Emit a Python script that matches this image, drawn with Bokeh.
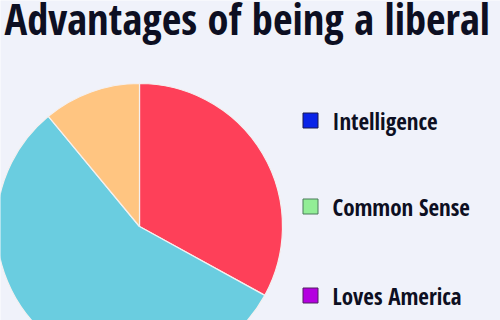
import math
from bokeh.plotting import figure
from bokeh.models import ColumnDataSource, Range1d
from bokeh.core.properties import value
from bokeh.embed import file_html
from bokeh.resources import INLINE

title_text = "Advantages of being a liberal"
slice_names = ["Red", "Blue", "Orange"]
slice_values = [0.33, 0.56, 0.11]
slice_colors = ["#FE4059", "#6ACDE0", "#FFC581"]

legend_labels = ["Intelligence", "Common Sense", "Loves America"]
legend_colors = ["#0A24E8", "#92EE96", "#B400E0"]
legend_borders = ["#1A1A50", "#4A7A5A", "#502060"]

BG = "#F0F2FA"
W, H = 500, 320
FONT = value("Open Sans Condensed")

p = figure(width=W, height=H, output_backend="svg", toolbar_location=None,
           x_range=Range1d(0, W), y_range=Range1d(0, H), min_border=0)
p.axis.visible = False
p.grid.visible = False
p.outline_line_color = None
p.background_fill_color = BG
p.border_fill_color = BG

# pie
starts, ends = [], []
a = math.pi / 2
for v in slice_values:
    starts.append(a)
    a -= v * 2 * math.pi
    ends.append(a)
src = ColumnDataSource(dict(start=starts, end=ends, color=slice_colors, name=slice_names))
p.wedge(x=139, y=H - 226, radius=143, start_angle="start", end_angle="end",
        direction="clock", fill_color="color", line_color="#F4F0F0", line_width=1.2,
        source=src)

# title
p.text(x=[4], y=[H - 18], text=[title_text], text_font=FONT,
       text_font_style="bold", text_font_size="42.5px", text_color="#0D0F22",
       text_baseline="middle", text_align="left")

# legend
ys = [H - 120, H - 206, H - 295]
lsrc = ColumnDataSource(dict(x=[310] * 3, y=ys, color=legend_colors,
                             border=legend_borders, label=legend_labels,
                             tx=[332] * 3))
p.rect(x="x", y="y", width=15, height=15, fill_color="color", line_color="border",
       line_width=1, source=lsrc)
p.text(x="tx", y="y", text="label", text_font=FONT,
       text_font_style="bold", text_font_size="23px", text_color="#0D0F22",
       text_baseline="middle", text_align="left", source=lsrc)

open("out.html", "w").write(file_html(p, INLINE))
